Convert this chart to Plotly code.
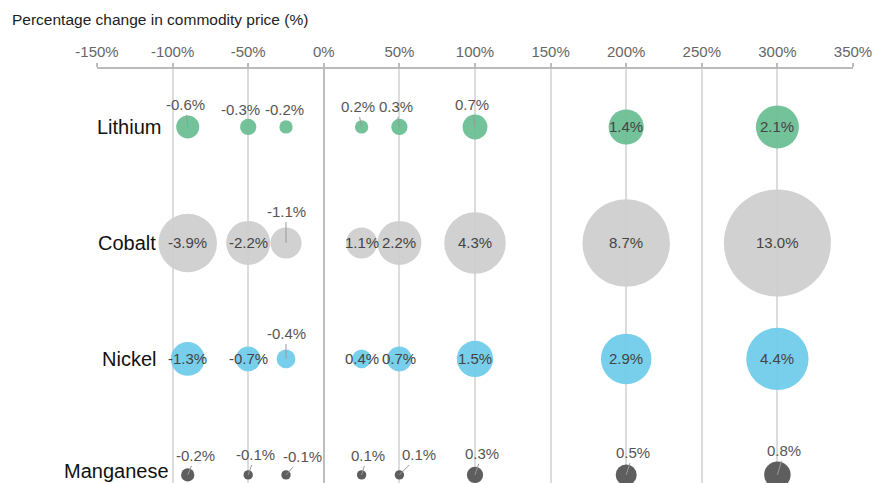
import plotly.graph_objects as go

# ---- data ----
price_changes = [-90, -50, -25, 25, 50, 100, 200, 300]
commodities = ["Lithium", "Cobalt", "Nickel", "Manganese"]
lithium = [-0.6, -0.3, -0.2, 0.2, 0.3, 0.7, 1.4, 2.1]
cobalt = [-3.9, -2.2, -1.1, 1.1, 2.2, 4.3, 8.7, 13.0]
nickel = [-1.3, -0.7, -0.4, 0.4, 0.7, 1.5, 2.9, 4.4]
manganese = [-0.2, -0.1, -0.1, 0.1, 0.1, 0.3, 0.5, 0.8]
tick_values = [-150, -100, -50, 0, 50, 100, 150, 200, 250, 300, 350]
tick_labels = [f"{v}%" for v in tick_values]

series = [lithium, cobalt, nickel, manganese]

# ---- styles ----
colors = ["rgba(104,189,146,0.93)", "rgba(205,205,205,0.93)",
          "rgba(110,203,234,0.93)", "rgba(85,85,85,0.95)"]
# label offsets (pixels) for labels placed outside bubbles; None = inside
label_offsets = [
    [(-2, -22, True), (-8, -17, False), (-2, -17, False), (-4, -20, True),
     (-3, -20, True), (-3, -22, True), None, None],
    [None, None, (0, -31, True), None, None, None, None, None],
    [None, None, (0, -25, True), None, None, None, None, None],
    [(8, -19, True), (7, -20, True), (16, -18, True), (6, -19, True),
     (20, -20, True), (7, -21, True), (7, -22, True), (7, -24, True)],
]
name_shift = [(-25, 0), (-30, 0), (-30, 0), (-17, 4)]

FONT = "Liberation Sans, Arial, sans-serif"
max_val = max(abs(v) for s in series for v in s)
sizeref = 2 * max_val / (107 ** 2)

fig = go.Figure()
annotations = []
for i, (name, vals) in enumerate(zip(commodities, series)):
    fig.add_trace(go.Scatter(
        x=price_changes, y=[i] * len(vals), mode="markers", name=name,
        marker=dict(size=[abs(v) for v in vals], sizemode="area", sizeref=sizeref,
                    color=colors[i], opacity=1, line=dict(width=0)),
        hoverinfo="skip", showlegend=False))
    for x, v, off in zip(price_changes, vals, label_offsets[i]):
        txt = f"{v:.1f}%"
        if off is None:
            annotations.append(dict(x=x, y=i, xref="x", yref="y", text=txt,
                                    showarrow=False,
                                    font=dict(size=15, color="#444", family=FONT)))
        else:
            ax, ay, arrow = off
            if arrow:
                annotations.append(dict(x=x, y=i, xref="x", yref="y", text=txt,
                                        showarrow=True, arrowhead=0, arrowwidth=1,
                                        arrowcolor="#999", ax=ax, ay=ay, standoff=0,
                                        font=dict(size=15, color="#555", family=FONT)))
            else:
                annotations.append(dict(x=x, y=i, xref="x", yref="y", text=txt,
                                        showarrow=False, xshift=ax, yshift=-ay,
                                        font=dict(size=15, color="#555", family=FONT)))
    annotations.append(dict(x=price_changes[0], y=i, xref="x", yref="y", text=name,
                            showarrow=False, xanchor="right", xshift=name_shift[i][0],
                            yshift=name_shift[i][1],
                            font=dict(size=20, color="#111", family=FONT)))

fig.update_layout(
    width=873, height=483,
    margin=dict(l=97, r=20, t=69, b=0),
    paper_bgcolor="white", plot_bgcolor="white",
    font=dict(family=FONT),
    title=dict(text="Percentage change in commodity price (%)", xref="container",
               x=12 / 873, xanchor="left", yref="container", y=1 - 20 / 483,
               yanchor="middle", font=dict(size=15.5, color="#222", family=FONT)),
    xaxis=dict(side="top", range=[-150, 350], tickvals=tick_values, ticktext=tick_labels,
               tickfont=dict(size=15, color="#666", family=FONT),
               ticks="outside", ticklen=4, tickcolor="#bbb", tickwidth=1.5,
               showline=True, linecolor="#bbb", linewidth=2,
               showgrid=True, gridcolor="#dcdcdc", gridwidth=2,
               zeroline=True, zerolinecolor="#bdbdbd", zerolinewidth=2),
    yaxis=dict(range=[3.07, -0.5], showticklabels=False, showgrid=False,
               zeroline=False, showline=False),
    annotations=annotations,
)

fig.write_html("out.html", config={"displayModeBar": False},
               post_script="document.body.style.margin='0';document.body.style.overflow='hidden';")
